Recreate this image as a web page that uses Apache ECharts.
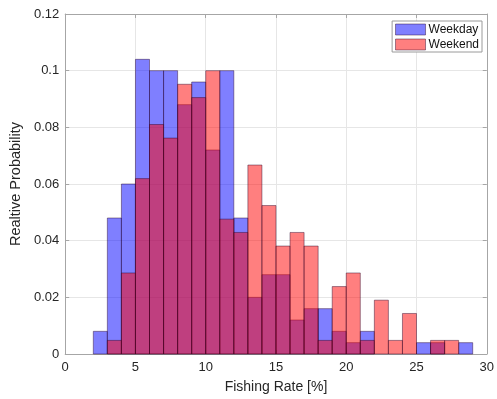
<!DOCTYPE html>
<html>
<head>
<meta charset="utf-8">
<script src="https://cdn.jsdelivr.net/npm/echarts@6/dist/echarts.min.js"></script>
<style>
  html, body { margin: 0; padding: 0; background: #ffffff; }
  #chart { width: 497px; height: 399px; }
</style>
</head>
<body>
<div id="chart"></div>
<script>
// Histogram bins: left edges, all bins 1 unit wide
const binStarts = [2, 3, 4, 5, 6, 7, 8, 9, 10, 11, 12, 13, 14, 15, 16, 17, 18, 19, 20, 21, 22, 23, 24, 25, 26, 27, 28];
const binWidth = 1;

// Relative probability per bin
const weekday = [0.008, 0.048, 0.06, 0.104, 0.1, 0.1, 0.088, 0.096, 0.072, 0.1, 0.048, 0.02, 0.028, 0.028,
                 0.012, 0.016, 0.016, 0.008, 0.004, 0.008, 0, 0, 0, 0.004, 0.004, 0, 0.004];
const weekend = [0, 0.0048, 0.0286, 0.0619, 0.081, 0.0762, 0.0952, 0.0905, 0.1, 0.0476, 0.0429, 0.0667, 0.0524, 0.0381,
                 0.0429, 0.0381, 0.0048, 0.0238, 0.0286, 0.0048, 0.019, 0.0048, 0.0143, 0, 0.0048, 0.0048, 0];

const seriesNames = ['Weekday', 'Weekend'];
const seriesColors = ['rgba(0,0,255,0.5)', 'rgba(255,0,0,0.5)'];

const FONT = '"Liberation Sans", Arial, Helvetica, sans-serif';
const AXIS_COLOR = '#a6a6a6';
const TEXT_COLOR = '#262626';
const EDGE_COLOR = 'rgba(40,0,40,0.55)';

function toBins(values) {
  return binStarts.map((s, i) => [s, s + binWidth, values[i]]);
}

function histRenderer(fill) {
  return function (params, api) {
    const v = api.value(2);
    if (!v) return null;
    const topLeft = api.coord([api.value(0), v]);
    const bottomRight = api.coord([api.value(1), 0]);
    return {
      type: 'rect',
      shape: {
        x: topLeft[0],
        y: topLeft[1],
        width: bottomRight[0] - topLeft[0],
        height: bottomRight[1] - topLeft[1]
      },
      style: { fill: fill, stroke: EDGE_COLOR, lineWidth: 0.8 }
    };
  };
}

const chart = echarts.init(document.getElementById('chart'), null, { renderer: 'canvas' });

// Box-style axes: line on every side, short ticks pointing inward
function boxAxis(extra) {
  return Object.assign({
    axisLine: { show: true, onZero: false, lineStyle: { color: AXIS_COLOR, width: 1 } },
    axisTick: { show: true, inside: true, length: 4, lineStyle: { color: AXIS_COLOR } }
  }, extra);
}

chart.setOption({
  animation: false,
  backgroundColor: '#ffffff',
  textStyle: { fontFamily: FONT },
  grid: { left: 58.5, right: 6.5, top: 14, bottom: 43, containLabel: false },
  legend: {
    orient: 'vertical',
    right: 15,
    top: 21,
    itemWidth: 30,
    itemHeight: 11,
    itemGap: 2,
    padding: [2, 3, 1, 3],
    borderColor: '#9a9a9a',
    borderWidth: 1,
    backgroundColor: '#ffffff',
    borderRadius: 0,
    textStyle: { fontFamily: FONT, fontSize: 12, lineHeight: 13, color: '#111111', padding: [0, 0, 0, -2] },
    data: seriesNames.map((n, i) => ({
      name: n,
      icon: 'rect',
      itemStyle: { color: seriesColors[i], borderColor: EDGE_COLOR, borderWidth: 0.8 }
    }))
  },
  xAxis: [
    boxAxis({
      type: 'value', min: 0, max: 30, interval: 5, position: 'bottom',
      name: 'Fishing Rate [%]', nameLocation: 'middle', nameGap: 26,
      nameTextStyle: { fontFamily: FONT, fontSize: 14, color: TEXT_COLOR },
      axisLabel: { color: TEXT_COLOR, fontSize: 13, fontFamily: FONT, margin: 7 },
      splitLine: { show: true, lineStyle: { color: '#e6e6e6', width: 1 } }
    }),
    boxAxis({
      type: 'value', min: 0, max: 30, interval: 5, position: 'top',
      axisLabel: { show: false }, splitLine: { show: false }
    })
  ],
  yAxis: [
    boxAxis({
      type: 'value', min: 0, max: 0.12, interval: 0.02, position: 'left',
      name: 'Realtive Probability', nameLocation: 'middle', nameGap: 33, nameRotate: 90,
      nameTextStyle: { fontFamily: FONT, fontSize: 14.5, color: TEXT_COLOR },
      axisLabel: { color: TEXT_COLOR, fontSize: 13, fontFamily: FONT, margin: 6 },
      splitLine: { show: true, lineStyle: { color: '#e6e6e6', width: 1 } }
    }),
    boxAxis({
      type: 'value', min: 0, max: 0.12, interval: 0.02, position: 'right',
      axisLabel: { show: false }, splitLine: { show: false }
    })
  ],
  series: [
    {
      name: seriesNames[0], type: 'custom', xAxisIndex: 0, yAxisIndex: 0,
      itemStyle: { color: seriesColors[0] },
      encode: { x: [0, 1], y: 2 },
      renderItem: histRenderer(seriesColors[0]),
      data: toBins(weekday)
    },
    {
      name: seriesNames[1], type: 'custom', xAxisIndex: 0, yAxisIndex: 0,
      itemStyle: { color: seriesColors[1] },
      encode: { x: [0, 1], y: 2 },
      renderItem: histRenderer(seriesColors[1]),
      data: toBins(weekend)
    }
  ]
});
</script>
</body>
</html>
